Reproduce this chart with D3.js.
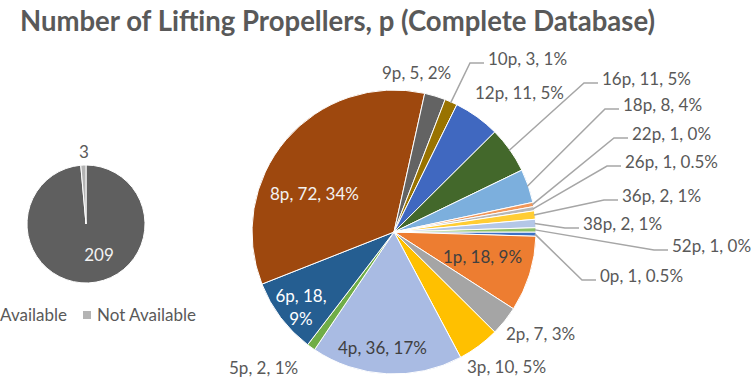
<!DOCTYPE html>
<html>
<head>
<meta charset="utf-8">
<script src="https://cdn.jsdelivr.net/npm/d3@7"></script>
<style>
  html, body { margin: 0; padding: 0; background: #ffffff; }
  svg { display: block; font-family: Lato, "Open Sans", sans-serif; }
</style>
</head>
<body>
<svg id="chart" width="751" height="381"></svg>
<script>
// Propeller count per aircraft, complete database
const categories = ["0p", "1p", "2p", "3p", "4p", "5p", "6p", "8p", "9p", "10p",
                    "12p", "16p", "18p", "22p", "26p", "36p", "38p", "52p"];
const counts = [1, 18, 7, 10, 36, 2, 18, 72, 5, 3, 11, 11, 8, 1, 1, 2, 2, 1];
const percentLabels = ["0.5%", "9%", "3%", "5%", "17%", "1%", "9%", "34%", "2%", "1%",
                       "5%", "5%", "4%", "0%", "0.5%", "1%", "1%", "0%"];
const sliceColors = ["#3D71C4", "#ED7D31", "#A5A5A5", "#FFC000", "#A9BBE3", "#70AD47",
                     "#255E91", "#9E480E", "#636363", "#997300", "#4068C0", "#43682B",
                     "#7CAFDD", "#F1975A", "#B7B7B7", "#FFCD33", "#B4C7E7", "#8CC168"];

// Availability of the propeller count field
const availCategories = ["Available", "Not Available"];
const availCounts = [209, 3];
const availColors = ["#5F5F5F", "#B4B4B4"];

// Label placement (offsets from the big pie's centre), text colour, leader line flag
const labelLayout = [
  { dx: 206, dy: 44,   leader: true,  fill: "#595959" },   // 0p
  { dx: 49,  dy: 25,   leader: false, fill: "#404040" },   // 1p
  { dx: 112, dy: 102,  leader: false, fill: "#595959" },   // 2p
  { dx: 73,  dy: 135,  leader: false, fill: "#595959" },   // 3p
  { dx: -56, dy: 116,  leader: false, fill: "#404040" },   // 4p
  { dx: -165, dy: 136, leader: false, fill: "#595959" },   // 5p
  { dx: -93, dy: 64,   leader: false, fill: "#FFFFFF", wrap: true }, // 6p
  { dx: -124, dy: -38, leader: false, fill: "#F2F2F2" },   // 8p
  { dx: -12, dy: -159, leader: false, fill: "#595959" },   // 9p
  { dx: 94,  dy: -173, leader: true,  fill: "#595959" },   // 10p
  { dx: 81,  dy: -139, leader: false, fill: "#595959" },   // 12p
  { dx: 208, dy: -153, leader: true,  fill: "#595959" },   // 16p
  { dx: 229, dy: -127, leader: true,  fill: "#595959" },   // 18p
  { dx: 238, dy: -98,  leader: true,  fill: "#595959" },   // 22p
  { dx: 231, dy: -70,  leader: true,  fill: "#595959" },   // 26p
  { dx: 228, dy: -36,  leader: true,  fill: "#595959" },   // 36p
  { dx: 189, dy: -8,   leader: true,  fill: "#595959" },   // 38p
  { dx: 278, dy: 14,   leader: true,  fill: "#595959" }    // 52p
];

const svg = d3.select("#chart");
const textGrey = "#595959";
const labelSize = 17;

// Title
svg.append("text")
  .attr("x", 20).attr("y", 31)
  .attr("font-size", 28).attr("font-weight", 700)
  .attr("fill", textGrey)
  .attr("textLength", 635).attr("lengthAdjust", "spacingAndGlyphs")
  .text("Number of Lifting Propellers, p (Complete Database)");

// ---- Small availability pie ----
const small = { cx: 86, cy: 224, r: 59 };
const smallPie = d3.pie().sort(null).value(d => d)(availCounts);
const smallArc = d3.arc().innerRadius(0).outerRadius(small.r);
const gs = svg.append("g").attr("transform", `translate(${small.cx},${small.cy})`);
gs.selectAll("path").data(smallPie).join("path")
  .attr("d", smallArc)
  .attr("fill", (d, i) => availColors[i])
  .attr("stroke", "#fff").attr("stroke-width", 1);

// value labels for the small pie
gs.append("text")
  .attr("x", 13).attr("y", 37)
  .attr("text-anchor", "middle").attr("font-size", labelSize)
  .attr("fill", "#F2F2F2").text(availCounts[0]);
gs.append("text")
  .attr("x", -2).attr("y", -66)
  .attr("text-anchor", "middle").attr("font-size", labelSize)
  .attr("fill", textGrey).text(availCounts[1]);

// legend for the small pie
const legend = svg.append("g").attr("transform", "translate(0,315)");
const legendItems = [
  { x: 67, anchor: "end" },
  { x: 97, anchor: "start" }
];
availCategories.forEach((name, i) => {
  const t = legend.append("text")
    .attr("x", legendItems[i].x).attr("y", 6)
    .attr("text-anchor", legendItems[i].anchor)
    .attr("font-size", labelSize).attr("fill", textGrey)
    .text(name);
});
legend.append("rect").attr("x", 83).attr("y", -4).attr("width", 8).attr("height", 8)
  .attr("fill", availColors[1]);
legend.append("rect").attr("x", -30).attr("y", -4).attr("width", 8).attr("height", 8)
  .attr("fill", availColors[0]);

// ---- Main pie ----
const big = { cx: 394, cy: 232, r: 142 };
const pie = d3.pie().sort(null).value(d => d)
  .startAngle(Math.PI / 2).endAngle(Math.PI / 2 + 2 * Math.PI);
const arcs = pie(counts);
const arc = d3.arc().innerRadius(0).outerRadius(big.r);

const g = svg.append("g").attr("transform", `translate(${big.cx},${big.cy})`);
g.selectAll("path.slice").data(arcs).join("path")
  .attr("class", "slice")
  .attr("d", arc)
  .attr("fill", (d, i) => sliceColors[i])
  .attr("stroke", "#fff").attr("stroke-width", 1);

// leader lines from the slice rim to the label
arcs.forEach((a, i) => {
  const L = labelLayout[i];
  if (!L.leader) return;
  const mid = (a.startAngle + a.endAngle) / 2;
  const sx = (big.r - 1) * Math.sin(mid), sy = -(big.r - 1) * Math.cos(mid);
  const ex = L.dx - 4, ey = L.dy + 4;
  g.append("polyline")
    .attr("points", `${sx},${sy} ${ex - 14},${ey} ${ex},${ey}`)
    .attr("fill", "none").attr("stroke", "#A6A6A6").attr("stroke-width", 1.5);
});

// data labels: "category, value, percent"
arcs.forEach((a, i) => {
  const L = labelLayout[i];
  const txt = `${categories[i]}, ${counts[i]}, ${percentLabels[i]}`;
  if (L.wrap) {
    const t = g.append("text")
      .attr("text-anchor", "middle").attr("font-size", labelSize).attr("fill", L.fill);
    t.append("tspan").attr("x", L.dx).attr("y", L.dy + 6)
      .text(`${categories[i]}, ${counts[i]},`);
    t.append("tspan").attr("x", L.dx).attr("y", L.dy + 29)
      .text(percentLabels[i]);
  } else {
    g.append("text")
      .attr("x", L.dx).attr("y", L.dy + 6)
      .attr("font-size", labelSize).attr("fill", L.fill)
      .text(txt);
  }
});
</script>
</body>
</html>
